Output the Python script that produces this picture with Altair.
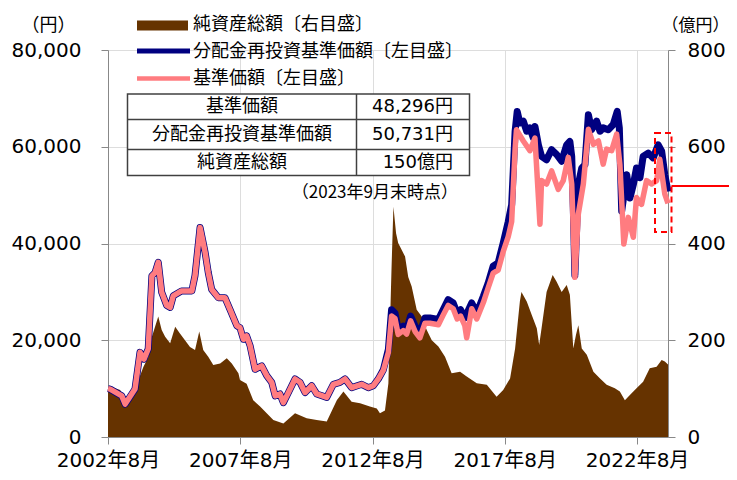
import altair as alt
import pandas as pd

# ---------------- data ----------------
# period where both NAV lines coincide (decimal years)
common_years = [2002.58, 2002.66, 2003.10, 2003.23, 2003.60, 2003.79, 2003.94, 2004.10, 2004.24, 2004.36,
                2004.48, 2004.61, 2004.80, 2004.93, 2005.05, 2005.36, 2005.75, 2005.87, 2006.06, 2006.15,
                2006.25, 2006.37, 2006.50, 2006.75, 2007.00, 2007.19, 2007.45, 2007.57, 2007.70, 2007.82,
                2007.95, 2008.14, 2008.39, 2008.58, 2008.77, 2008.90, 2009.08, 2009.21, 2009.40, 2009.65,
                2009.84, 2010.03, 2010.28, 2010.47, 2010.85, 2011.10, 2011.35, 2011.54, 2011.79, 2012.17,
                2012.42, 2012.61, 2012.80]
common_vals = [10000, 9900, 8500, 6800, 9900, 17500, 16100, 18200, 33300, 34000,
               36100, 29900, 27200, 26800, 29200, 30200, 30200, 33400, 43300, 40900,
               38200, 34000, 30500, 28800, 28800, 26400, 23000, 22600, 20200, 20900,
               18900, 14000, 14700, 12700, 11300, 8500, 8900, 7100, 9200, 12000,
               11300, 9200, 10600, 8900, 8200, 10900, 11300, 12000, 10200, 10900,
               10200, 10600, 12000]

# 分配金再投資基準価額 (later period)
navr_years_late = [2012.99, 2013.18, 2013.30, 2013.43, 2013.55, 2013.74, 2013.87, 2014.02, 2014.19, 2014.37,
                   2014.56, 2014.75, 2015.07, 2015.25, 2015.44, 2015.63, 2015.78, 2015.91, 2016.07, 2016.33,
                   2016.52, 2016.77, 2016.95, 2017.14, 2017.33, 2017.52, 2017.71, 2017.84, 2017.97, 2018.05,
                   2018.15, 2018.28, 2018.41, 2018.53, 2018.66, 2018.72, 2018.85, 2018.97, 2019.16, 2019.35,
                   2019.54, 2019.73, 2019.92, 2020.04, 2020.11, 2020.17, 2020.23, 2020.36, 2020.49, 2020.61,
                   2020.74, 2020.86, 2021.05, 2021.18, 2021.30, 2021.49, 2021.68, 2021.83, 2021.91, 2022.00,
                   2022.19, 2022.31, 2022.44, 2022.56, 2022.69, 2022.81, 2023.00, 2023.19, 2023.38, 2023.51,
                   2023.63, 2023.75]
navr_vals_late = [13900, 18100, 26300, 25600, 22200, 22900, 22200, 25000, 22900, 21500,
                  24600, 24600, 24300, 26300, 28400, 27700, 25600, 26300, 24600, 27700,
                  25600, 29100, 31800, 35300, 36000, 40100, 44500, 48000, 63200, 67300,
                  64900, 65300, 63200, 63900, 61800, 64200, 60400, 58000, 57300, 59400,
                  58400, 57000, 60400, 61100, 58000, 47400, 33400, 52200, 55600, 56300,
                  66600, 63500, 65300, 63200, 63900, 63500, 64600, 67300, 63900, 46700,
                  54200, 49400, 52200, 55600, 53600, 58000, 58700, 57700, 60400, 59100,
                  54200, 50731]

# 基準価額 (later period)
nav_years_late = [2012.99, 2013.18, 2013.30, 2013.43, 2013.55, 2013.74, 2013.87, 2014.02, 2014.19, 2014.37,
                  2014.56, 2014.75, 2015.07, 2015.25, 2015.44, 2015.63, 2015.78, 2015.91, 2016.07, 2016.14,
                  2016.33, 2016.52, 2016.77, 2016.95, 2017.14, 2017.33, 2017.52, 2017.71, 2017.84, 2017.97,
                  2018.02, 2018.28, 2018.53, 2018.72, 2018.91, 2018.97, 2019.16, 2019.35, 2019.60, 2019.79,
                  2019.98, 2020.11, 2020.23, 2020.36, 2020.55, 2020.74, 2020.93, 2021.12, 2021.30, 2021.43,
                  2021.62, 2021.81, 2021.93, 2022.08, 2022.25, 2022.44, 2022.56, 2022.75, 2022.94, 2023.13,
                  2023.32, 2023.44, 2023.63, 2023.75]
nav_vals_late = [13800, 17500, 25000, 24500, 21200, 22000, 21300, 24000, 21800, 20500,
                 23500, 23500, 23200, 25200, 27200, 26500, 24400, 25000, 23000, 20500,
                 26500, 24400, 27800, 30800, 33900, 34500, 38300, 41400, 44500, 59500,
                 63500, 61200, 59200, 61800, 44000, 53000, 52300, 55000, 51200, 53000,
                 57800, 52300, 33000, 46100, 52300, 63600, 60500, 61200, 56400, 59500,
                 59200, 62600, 56400, 39900, 45400, 41300, 49500, 48100, 53000, 52300,
                 53000, 57400, 50200, 48296]

# 純資産総額 (億円)
asset_years = [2002.58, 2002.66, 2003.04, 2003.23, 2003.48, 2003.73, 2003.92, 2004.11, 2004.24, 2004.48,
               2004.61, 2004.74, 2004.93, 2005.12, 2005.30, 2005.49, 2005.68, 2005.87, 2006.03, 2006.18,
               2006.37, 2006.56, 2006.82, 2007.07, 2007.26, 2007.51, 2007.57, 2007.82, 2008.07, 2008.33,
               2008.58, 2008.83, 2009.21, 2009.65, 2010.09, 2010.47, 2010.85, 2011.23, 2011.48, 2011.79,
               2012.11, 2012.48, 2012.74, 2012.86, 2013.05, 2013.18, 2013.30, 2013.37, 2013.47, 2013.55,
               2013.68, 2013.81, 2013.93, 2014.06, 2014.25, 2014.44, 2014.63, 2014.82, 2015.07, 2015.32,
               2015.57, 2015.89, 2016.14, 2016.52, 2016.90, 2017.27, 2017.52, 2017.78, 2017.97, 2018.15,
               2018.21, 2018.41, 2018.60, 2018.79, 2018.88, 2018.97, 2019.16, 2019.39, 2019.54, 2019.73,
               2019.92, 2020.04, 2020.17, 2020.27, 2020.36, 2020.49, 2020.68, 2020.93, 2021.18, 2021.43,
               2021.74, 2021.93, 2022.12, 2022.31, 2022.56, 2022.81, 2023.06, 2023.32, 2023.51, 2023.63,
               2023.75]
asset_vals = [100, 104, 97, 77, 94, 118, 145, 166, 207, 249,
              221, 207, 194, 228, 214, 200, 186, 180, 218, 180,
              166, 149, 152, 163, 152, 132, 118, 110, 76, 63,
              49, 35, 28, 49, 39, 35, 32, 76, 94, 73,
              70, 63, 59, 49, 55, 111, 352, 476, 421, 401,
              387, 373, 331, 311, 263, 249, 221, 200, 187, 166,
              132, 135, 125, 111, 108, 83, 97, 121, 183, 280,
              300, 280, 252, 225, 190, 225, 300, 335, 321, 300,
              314, 294, 183, 211, 231, 183, 170, 135, 121, 108,
              101, 94, 76, 87, 101, 114, 142, 145, 159, 156,
              150]

legend_labels = ["純資産総額〔右目盛〕", "分配金再投資基準価額〔左目盛〕", "基準価額〔左目盛〕"]
table_labels = ["基準価額", "分配金再投資基準価額", "純資産総額"]
table_values = ["48,296円", "50,731円", "150億円"]
as_of_note = "（2023年9月末時点）"
x_domain = [2002.58, 2023.75]
x_tick_years = [2002.58, 2007.58, 2012.58, 2017.58, 2022.58]
yen_ticks = [0, 20000, 40000, 60000, 80000]
oku_ticks = [0, 200, 400, 600, 800]

# ---------------- styles ----------------
BROWN = "#663300"
NAVY = "#000080"
PINK = "#FF7C80"
RED = "#FF0000"
AXIS_GRAY = "#A6A6A6"
NUM_FONT = "DejaVu Sans, Noto Sans CJK JP"
JP_FONT = "Noto Sans CJK JP, DejaVu Sans"

df_navr = pd.DataFrame({"year": common_years + navr_years_late, "value": common_vals + navr_vals_late})
df_nav = pd.DataFrame({"year": common_years + nav_years_late, "value": common_vals + nav_vals_late})
df_asset = pd.DataFrame({"year": asset_years, "value": asset_vals})
dummy = pd.DataFrame({"d": [0]})

x_enc = alt.X("year:Q",
              scale=alt.Scale(domain=x_domain, nice=False, zero=False),
              axis=alt.Axis(values=x_tick_years, labelExpr="floor(datum.value) + '年8月'",
                            title=None, labelFlush=False, labelOverlap=False, tickSize=7,
                            labelPadding=6, labelFontSize=20, labelFont=NUM_FONT))

area = alt.Chart(df_asset).mark_area(color=BROWN, interpolate="linear").encode(
    x=x_enc,
    y=alt.Y("value:Q", scale=alt.Scale(domain=[0, 800], nice=False),
            axis=alt.Axis(orient="right", values=oku_ticks, labelPadding=12, tickSize=7,
                          labelFontSize=20, labelFont=NUM_FONT,
                          title="（億円）", titleAngle=0, titleX=27, titleY=-25,
                          titleAlign="center", titleBaseline="middle", titleFontSize=17,
                          titleFontWeight="normal", titleFont=JP_FONT)),
)

navr_line = alt.Chart(df_navr).mark_line(color=NAVY, strokeWidth=7, strokeJoin="round").encode(
    x=x_enc,
    y=alt.Y("value:Q", scale=alt.Scale(domain=[0, 80000], nice=False),
            axis=alt.Axis(orient="left", values=yen_ticks, format=",.0f", labelPadding=20, tickSize=7,
                          labelFontSize=20, labelFont=NUM_FONT,
                          title="（円）", titleAngle=0, titleX=-60, titleY=-25,
                          titleAlign="center", titleBaseline="middle", titleFontSize=18,
                          titleFontWeight="normal", titleFont=JP_FONT)),
)

nav_line = alt.Chart(df_nav).mark_line(color=PINK, strokeWidth=5.5, strokeJoin="round").encode(
    x=x_enc,
    y=alt.Y("value:Q", scale=alt.Scale(domain=[0, 80000], nice=False), axis=None),
)


def text_mark(s, x, y, align="left", size=18, font=JP_FONT):
    return alt.Chart(dummy).mark_text(text=s, align=align, baseline="middle", fontSize=size,
                                      font=font, color="#000000").encode(
        x=alt.value(x), y=alt.value(y))


# red highlight annotations
red_box = alt.Chart(dummy).mark_rect(fill="transparent", stroke=RED, strokeWidth=2,
                                     strokeDash=[6, 4]).encode(
    x=alt.value(547), x2=alt.value(563.5), y=alt.value(83), y2=alt.value(182))
red_line = alt.Chart(dummy).mark_rule(color=RED, strokeWidth=2).encode(
    x=alt.value(563.5), x2=alt.value(640), y=alt.value(136))

# legend (manual, top-left)
leg_rect = alt.Chart(dummy).mark_rect(color=BROWN).encode(
    x=alt.value(29), x2=alt.value(80), y=alt.value(-29.5), y2=alt.value(-19.5))
leg_navy = alt.Chart(dummy).mark_rule(color=NAVY, strokeWidth=5).encode(
    x=alt.value(29), x2=alt.value(82), y=alt.value(1))
leg_pink = alt.Chart(dummy).mark_rule(color=PINK, strokeWidth=4.5).encode(
    x=alt.value(29), x2=alt.value(82), y=alt.value(28.5))
leg_texts = [text_mark(lbl, 85, yy) for lbl, yy in zip(legend_labels, [-25, 1.5, 29])]

# summary table
tb_left, tb_right, tb_col = 19.5, 361.5, 248.5
row_edges = [44, 69.5, 99.5, 125.5]
table_box = alt.Chart(dummy).mark_rect(fill="white", stroke="#404040", strokeWidth=1.5).encode(
    x=alt.value(tb_left), x2=alt.value(tb_right), y=alt.value(row_edges[0]), y2=alt.value(row_edges[-1]))
row_rules = [alt.Chart(dummy).mark_rule(color="#404040", strokeWidth=1.5).encode(
    x=alt.value(tb_left), x2=alt.value(tb_right), y=alt.value(yy)) for yy in row_edges[1:-1]]
col_rule = alt.Chart(dummy).mark_rule(color="#404040", strokeWidth=1.5).encode(
    x=alt.value(tb_col), y=alt.value(row_edges[0]), y2=alt.value(row_edges[-1]))
cell_texts = []
for i, (lbl, val) in enumerate(zip(table_labels, table_values)):
    yc = (row_edges[i] + row_edges[i + 1]) / 2
    cell_texts.append(text_mark(lbl, (tb_left + tb_col) / 2, yc, align="center"))
    cell_texts.append(text_mark(val, 345, yc, align="right", font=NUM_FONT))
note = text_mark(as_of_note, 350, 143, align="right", size=17)

chart = alt.layer(
    area, navr_line, nav_line, red_box, red_line,
    table_box, *row_rules, col_rule, *cell_texts, note,
    leg_rect, leg_navy, leg_pink, *leg_texts,
).resolve_scale(y="independent").properties(
    width=560, height=387,
    autosize=alt.AutoSizeParams(type="none"),
    padding={"left": 100, "top": 42, "right": 61, "bottom": 35},
).configure_view(stroke=None).configure_axis(
    domainColor=AXIS_GRAY, domainWidth=2, tickColor=AXIS_GRAY, tickWidth=2,
    labelColor="#000000", grid=False,
).configure(background="white")

chart.save("out.html", embed_options={"renderer": "svg", "actions": False})
